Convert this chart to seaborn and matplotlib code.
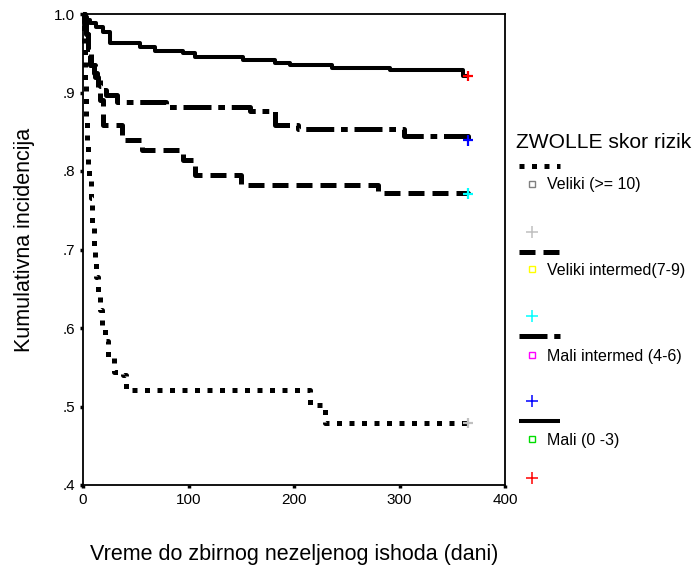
import matplotlib
matplotlib.use("Agg")
import matplotlib.pyplot as plt
from matplotlib.lines import Line2D
import pandas as pd
import seaborn as sns

# Risk groups (ZWOLLE score)
groups = ["Veliki (>= 10)", "Veliki intermed(7-9)", "Mali intermed (4-6)", "Mali (0 -3)"]

# Step curves: day of change and cumulative value from that day on
days_veliki = [0, 1, 2, 3, 4, 5, 6, 8, 9, 10, 11, 12, 14, 16, 18, 21, 24, 29, 38, 41, 215, 229, 365]
inc_veliki = [1.0, .955, .91, .87, .835, .805, .79, .765, .73, .705, .685, .665, .644, .623, .602,
              .583, .562, .544, .54, .521, .502, .479, .479]

days_vel_int = [0, 2, 5, 8, 11, 14, 16, 19, 37, 56, 95, 106, 150, 280, 365]
inc_vel_int = [1.0, .975, .954, .935, .92, .905, .89, .859, .839, .827, .814, .795, .782, .772, .771]

days_mali_int = [0, 1, 3, 5, 7, 10, 13, 16, 18, 22, 32, 79, 158, 182, 204, 304, 365]
inc_mali_int = [1.0, .99, .975, .955, .935, .925, .916, .908, .903, .897, .888, .882, .876, .859,
                .853, .845, .839]

days_mali = [0, 2, 4, 7, 12, 19, 26, 54, 68, 95, 106, 152, 182, 196, 236, 291, 360, 365]
inc_mali = [1.0, .996, .992, .989, .984, .977, .963, .958, .953, .950, .945, .941, .938, .935,
            .931, .929, .921, .921]

# Censored observations (end of follow-up)
censor_day = 365
censor_colors = ["#c0c0c0", "#00ffff", "#0000ff", "#ff0000"]
square_colors = ["#808080", "#ffff00", "#ff00ff", "#00dd00"]

x_ticks = [0, 100, 200, 300, 400]
y_ticks = [0.4, 0.5, 0.6, 0.7, 0.8, 0.9, 1.0]
y_tick_labels = [".4", ".5", ".6", ".7", ".8", ".9", "1.0"]

sns.set_style("ticks")
plt.rcParams["font.family"] = ["Liberation Sans", "DejaVu Sans"]
plt.rcParams.update({
    "lines.scale_dashes": True,
    "text.color": "black",
    "axes.labelcolor": "black",
    "xtick.color": "black",
    "ytick.color": "black",
})

W, H = 696, 569
fig = plt.figure(figsize=(W / 100, H / 100), dpi=100)
ax = fig.add_axes([83 / W, 1 - 485 / H, 422 / W, 471 / H])

styles = [
    dict(linestyle=(0, (1.0, 1.5)), linewidth=3.6),
    dict(linestyle=(0, (3.2, 1.6)), linewidth=3.6),
    dict(linestyle=(0, (5.6, 1.35, 1.35, 1.35)), linewidth=3.6),
    dict(linestyle="-", linewidth=2.9),
]
curves = [(days_veliki, inc_veliki), (days_vel_int, inc_vel_int),
          (days_mali_int, inc_mali_int), (days_mali, inc_mali)]

for (d, v), st in zip(curves, styles):
    df = pd.DataFrame({"dani": d, "incidencija": v})
    sns.lineplot(data=df, x="dani", y="incidencija", ax=ax, color="black",
                 estimator=None, drawstyle="steps-post", dash_capstyle="butt",
                 solid_capstyle="butt", clip_on=False, zorder=3, **st)

cens = pd.DataFrame({
    "dani": [censor_day] * 4,
    "incidencija": [inc_veliki[-1], inc_vel_int[-1], inc_mali_int[-1], inc_mali[-1]],
    "grupa": groups,
})
sns.scatterplot(data=cens, x="dani", y="incidencija", hue="grupa", palette=censor_colors,
                marker="+", s=60, linewidth=1.6, legend=False, ax=ax, zorder=5, clip_on=False)

ax.set_xlim(0, 400)
ax.set_ylim(0.4, 1.0)
ax.set_xticks(x_ticks)
ax.set_yticks(y_ticks)
ax.set_yticklabels(y_tick_labels)
ax.tick_params(direction="out", length=2.5, width=2.5, labelsize=11, pad=3,
               color="black", labelcolor="black")
for sp in ax.spines.values():
    sp.set_visible(True)
    sp.set_linewidth(1.3)
    sp.set_color("black")

ax.set_xlabel("Vreme do zbirnog nezeljenog ishoda (dani)", fontsize=15.5, color="black")
ax.set_ylabel("Kumulativna incidencija", fontsize=15.5, color="black")
ax.xaxis.set_label_coords(0.5, -0.125)
ax.yaxis.set_label_coords(-0.113, 0.52)


# Legend drawn beside the plot area
def fx(px):
    return px / W


def fy(py):
    return 1 - py / H


fig.text(fx(516), fy(142), "ZWOLLE skor rizik", fontsize=15.1, va="center", ha="left")
line_y = [166, 252, 336, 421]
label_y = [184, 269, 355, 439]
plus_y = [232, 316, 401, 478]
for i, g in enumerate(groups):
    st = styles[i]
    fig.add_artist(Line2D([fx(519), fx(560)], [fy(line_y[i])] * 2, color="black",
                          dash_capstyle="butt", solid_capstyle="butt", **st))
    fig.add_artist(Line2D([fx(532)], [fy(label_y[i])], marker="s", markersize=5,
                          markerfacecolor="white", markeredgecolor=square_colors[i],
                          markeredgewidth=1.0, linestyle="none"))
    fig.text(fx(547), fy(label_y[i] + 1), g, fontsize=11.5, va="center", ha="left")
    fig.add_artist(Line2D([fx(532)], [fy(plus_y[i])], marker="+", markersize=8,
                          markeredgecolor=censor_colors[i], markeredgewidth=1.1,
                          linestyle="none"))

fig.savefig("out.png", dpi=100)
